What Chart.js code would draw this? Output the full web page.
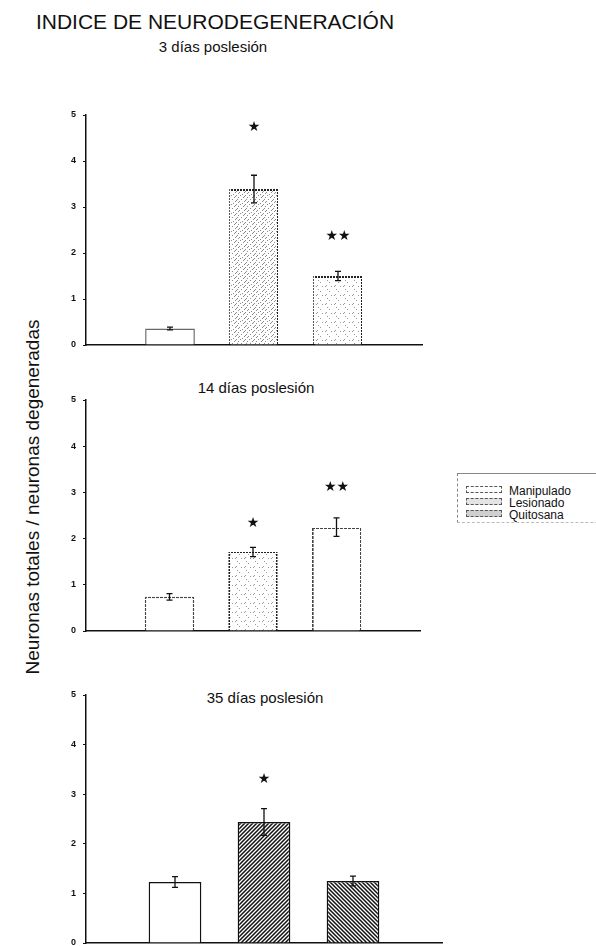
<!DOCTYPE html>
<html>
<head>
<meta charset="utf-8">
<script src="https://cdn.jsdelivr.net/npm/chart.js@4.4.1/dist/chart.umd.min.js"></script>
<style>
  body { margin: 0; background: #fff; width: 596px; height: 946px; position: relative; overflow: hidden;
         font-family: "Liberation Sans", Arial, sans-serif; color: #111; }
  canvas { position: absolute; left: 0; }
  .t { position: absolute; white-space: nowrap; text-align: center; }
  #titulo { left: 0; width: 430px; top: 10px; font-size: 21px; line-height: 24px; }
  .sub { font-size: 15px; line-height: 18px; width: 200px; }
  #ylab { left: 33px; top: 497px; font-size: 19px; line-height: 20px; transform: translate(-50%, -50%) rotate(-90deg); }
  #leyenda { position: absolute; left: 457px; top: 473px; width: 160px; height: 48px;
             border-top: 1px solid #888; border-left: 1px dashed #888; border-bottom: 1px dashed #bbb; }
  .fila { position: absolute; left: 8px; height: 12px; font-size: 12px; line-height: 12px; }
  .fila span { display: inline-block; width: 34px; height: 5px; border: 1px dashed #555; margin-right: 7px; vertical-align: 2px; }
</style>
</head>
<body>
<div class="t" id="titulo">INDICE DE NEURODEGENERACIÓN</div>
<div class="t sub" id="sub1" style="left:113px;top:38px">3 días poslesión</div>
<div class="t sub" id="sub2" style="left:156px;top:379px">14 días poslesión</div>
<div class="t sub" id="sub3" style="left:165px;top:689px">35 días poslesión</div>
<div class="t" id="ylab">Neuronas totales / neuronas degeneradas</div>
<div id="leyenda">
  <div class="fila" style="top:11px"><span style="background:#fff"></span>Manipulado</div>
  <div class="fila" style="top:23px"><span style="background:#e4e4e4"></span>Lesionado</div>
  <div class="fila" style="top:35px"><span style="background:#cfcfcf"></span>Quitosana</div>
</div>
<canvas id="p1" width="440" height="360" style="top:0"></canvas>
<canvas id="p2" width="440" height="270" style="top:380px"></canvas>
<canvas id="p3" width="460" height="266" style="top:680px"></canvas>
<script>
// datos
const grupos = ["Manipulado", "Lesionado", "Quitosana"];
const yTicks = [0, 1, 2, 3, 4, 5];

// 3 días
const media3 = [0.36, 3.39, 1.5];
const error3 = [0.03, 0.3, 0.1];
const marca3 = ["", "★", "★★"];
const nivel3 = [null, 4.74, 2.37];
// 14 días
const media14 = [0.74, 1.71, 2.25];
const error14 = [0.07, 0.1, 0.2];
const marca14 = ["", "★", "★★"];
const nivel14 = [null, 2.34, 3.1];
// 35 días
const media35 = [1.23, 2.44, 1.25];
const error35 = [0.11, 0.27, 0.1];
const marca35 = ["", "★", ""];
const nivel35 = [null, 3.29, null];

// tramas
function rayado(s, color, ancho, inv) {
  const c = document.createElement("canvas");
  c.width = s; c.height = s;
  const g = c.getContext("2d");
  g.fillStyle = "#fff"; g.fillRect(0, 0, s, s);
  g.strokeStyle = color; g.lineWidth = ancho;
  g.beginPath();
  if (!inv) {
    g.moveTo(0, s); g.lineTo(s, 0);
    g.moveTo(-1, 1); g.lineTo(1, -1);
    g.moveTo(s - 1, s + 1); g.lineTo(s + 1, s - 1);
  } else {
    g.moveTo(0, 0); g.lineTo(s, s);
    g.moveTo(-1, s - 1); g.lineTo(1, s + 1);
    g.moveTo(s - 1, -1); g.lineTo(s + 1, 1);
  }
  g.stroke();
  return g.createPattern(c, "repeat");
}
function moteado(puntos, color) {
  const c = document.createElement("canvas");
  c.width = 9; c.height = 9;
  const g = c.getContext("2d");
  g.fillStyle = "#fff"; g.fillRect(0, 0, 9, 9);
  g.fillStyle = color;
  puntos.forEach(([x, y]) => g.fillRect(x, y, 1, 1));
  return g.createPattern(c, "repeat");
}
function punteado(color, paso) {
  const c = document.createElement("canvas");
  c.width = paso; c.height = paso;
  const g = c.getContext("2d");
  g.fillStyle = color; g.fillRect(0, 0, paso - 1, paso - 1);
  return g.createPattern(c, "repeat");
}

const denso = [[0,8],[1,7],[2,6],[4,4],[5,3],[7,1],[3,1],[6,6],[1,3],[8,5],[4,8],[2,2]];
const ralo = [[1,7],[2,6],[5,3],[7,7],[3,1]];

const estilos3 = [
  { fill: "#fff", border: "#6a6a6a", bw: 1.5 },
  { fill: moteado(denso, "#8a8a8a"), border: punteado("#222", 3), bw: 2 },
  { fill: moteado(ralo, "#999"), border: punteado("#222", 3), bw: 2 },
];
const estilos14 = [
  { fill: "#fff", border: punteado("#444", 4), bw: 1.5 },
  { fill: moteado(ralo, "#9a9a9a"), border: punteado("#222", 3), bw: 2 },
  { fill: "#fff", border: punteado("#444", 4), bw: 2 },
];
const estilos35 = [
  { fill: "#fff", border: "#111", bw: 1.5 },
  { fill: rayado(4, "#111", 1.5, false), border: "#111", bw: 1.5 },
  { fill: rayado(4, "#111", 1.5, true), border: "#111", bw: 1.5 },
];

const barrasError = {
  id: "barrasError",
  afterDatasetsDraw(chart, args, opts) {
    const ctx = chart.ctx;
    const y = chart.scales.y;
    ctx.save();
    ctx.strokeStyle = "#111";
    ctx.fillStyle = "#111";
    ctx.lineWidth = 1.3;
    opts.medias.forEach((m, i) => {
      const bar = chart.getDatasetMeta(i).data[i + 1];
      const x = bar.x;
      const y1 = y.getPixelForValue(m + opts.errores[i]);
      const y2 = y.getPixelForValue(m - opts.errores[i]);
      ctx.beginPath();
      ctx.moveTo(x, y1); ctx.lineTo(x, y2);
      ctx.moveTo(x - 3, y1); ctx.lineTo(x + 3, y1);
      ctx.moveTo(x - 3, y2); ctx.lineTo(x + 3, y2);
      ctx.stroke();
      if (opts.marcas[i]) {
        ctx.font = "14px 'DejaVu Sans'";
        ctx.textAlign = "center";
        ctx.textBaseline = "middle";
        ctx.fillText(opts.marcas[i], x, y.getPixelForValue(opts.niveles[i]));
      }
    });
    ctx.restore();
  },
};

function crearPanel(id, medias, errores, marcas, niveles, estilos, pad) {
  const ctx = document.getElementById(id).getContext("2d");
  const labels = ["", ...grupos, " "];
  const datasets = grupos.map((g, i) => ({
    label: g,
    data: labels.map((_, j) => (j === i + 1 ? medias[i] : null)),
    backgroundColor: estilos[i].fill,
    borderColor: estilos[i].border,
    borderWidth: estilos[i].bw,
    categoryPercentage: 0.8,
    barPercentage: 0.74,
  }));
  return new Chart(ctx, {
    type: "bar",
    data: { labels, datasets },
    options: {
      responsive: false,
      animation: false,
      layout: { padding: pad },
      plugins: {
        legend: { display: false },
        tooltip: { enabled: false },
        barrasError: { medias, errores, marcas, niveles },
      },
      scales: {
        x: {
          stacked: true,
          offset: false,
          grid: { display: false },
          ticks: { display: false },
          border: { display: true, color: "#111", width: 1.5 },
          afterFit(s) { s.height = 0; s.paddingLeft = 0; s.paddingRight = 0; },
        },
        y: {
          min: 0,
          max: 5,
          afterBuildTicks(s) { s.ticks = yTicks.map((v) => ({ value: v })); },
          grid: { drawOnChartArea: false, drawTicks: true, tickLength: 3, color: "#111" },
          border: { display: true, color: "#111", width: 1.5 },
          ticks: { color: "#111", padding: 7, font: { family: "Liberation Sans", size: 9, weight: "bold" } },
          afterFit(s) { s.width = 26; s.paddingTop = 0; s.paddingBottom = 0; },
        },
      },
    },
    plugins: [barrasError],
  });
}

crearPanel("p1", media3, error3, marca3, nivel3, estilos3, { left: 60, right: 18, top: 115, bottom: 15 });
crearPanel("p2", media14, error14, marca14, nivel14, estilos14, { left: 60, right: 20, top: 20, bottom: 19 });
crearPanel("p3", media35, error35, marca35, nivel35, estilos35, { left: 60, right: 18, top: 15, bottom: 3 });
</script>
</body>
</html>
